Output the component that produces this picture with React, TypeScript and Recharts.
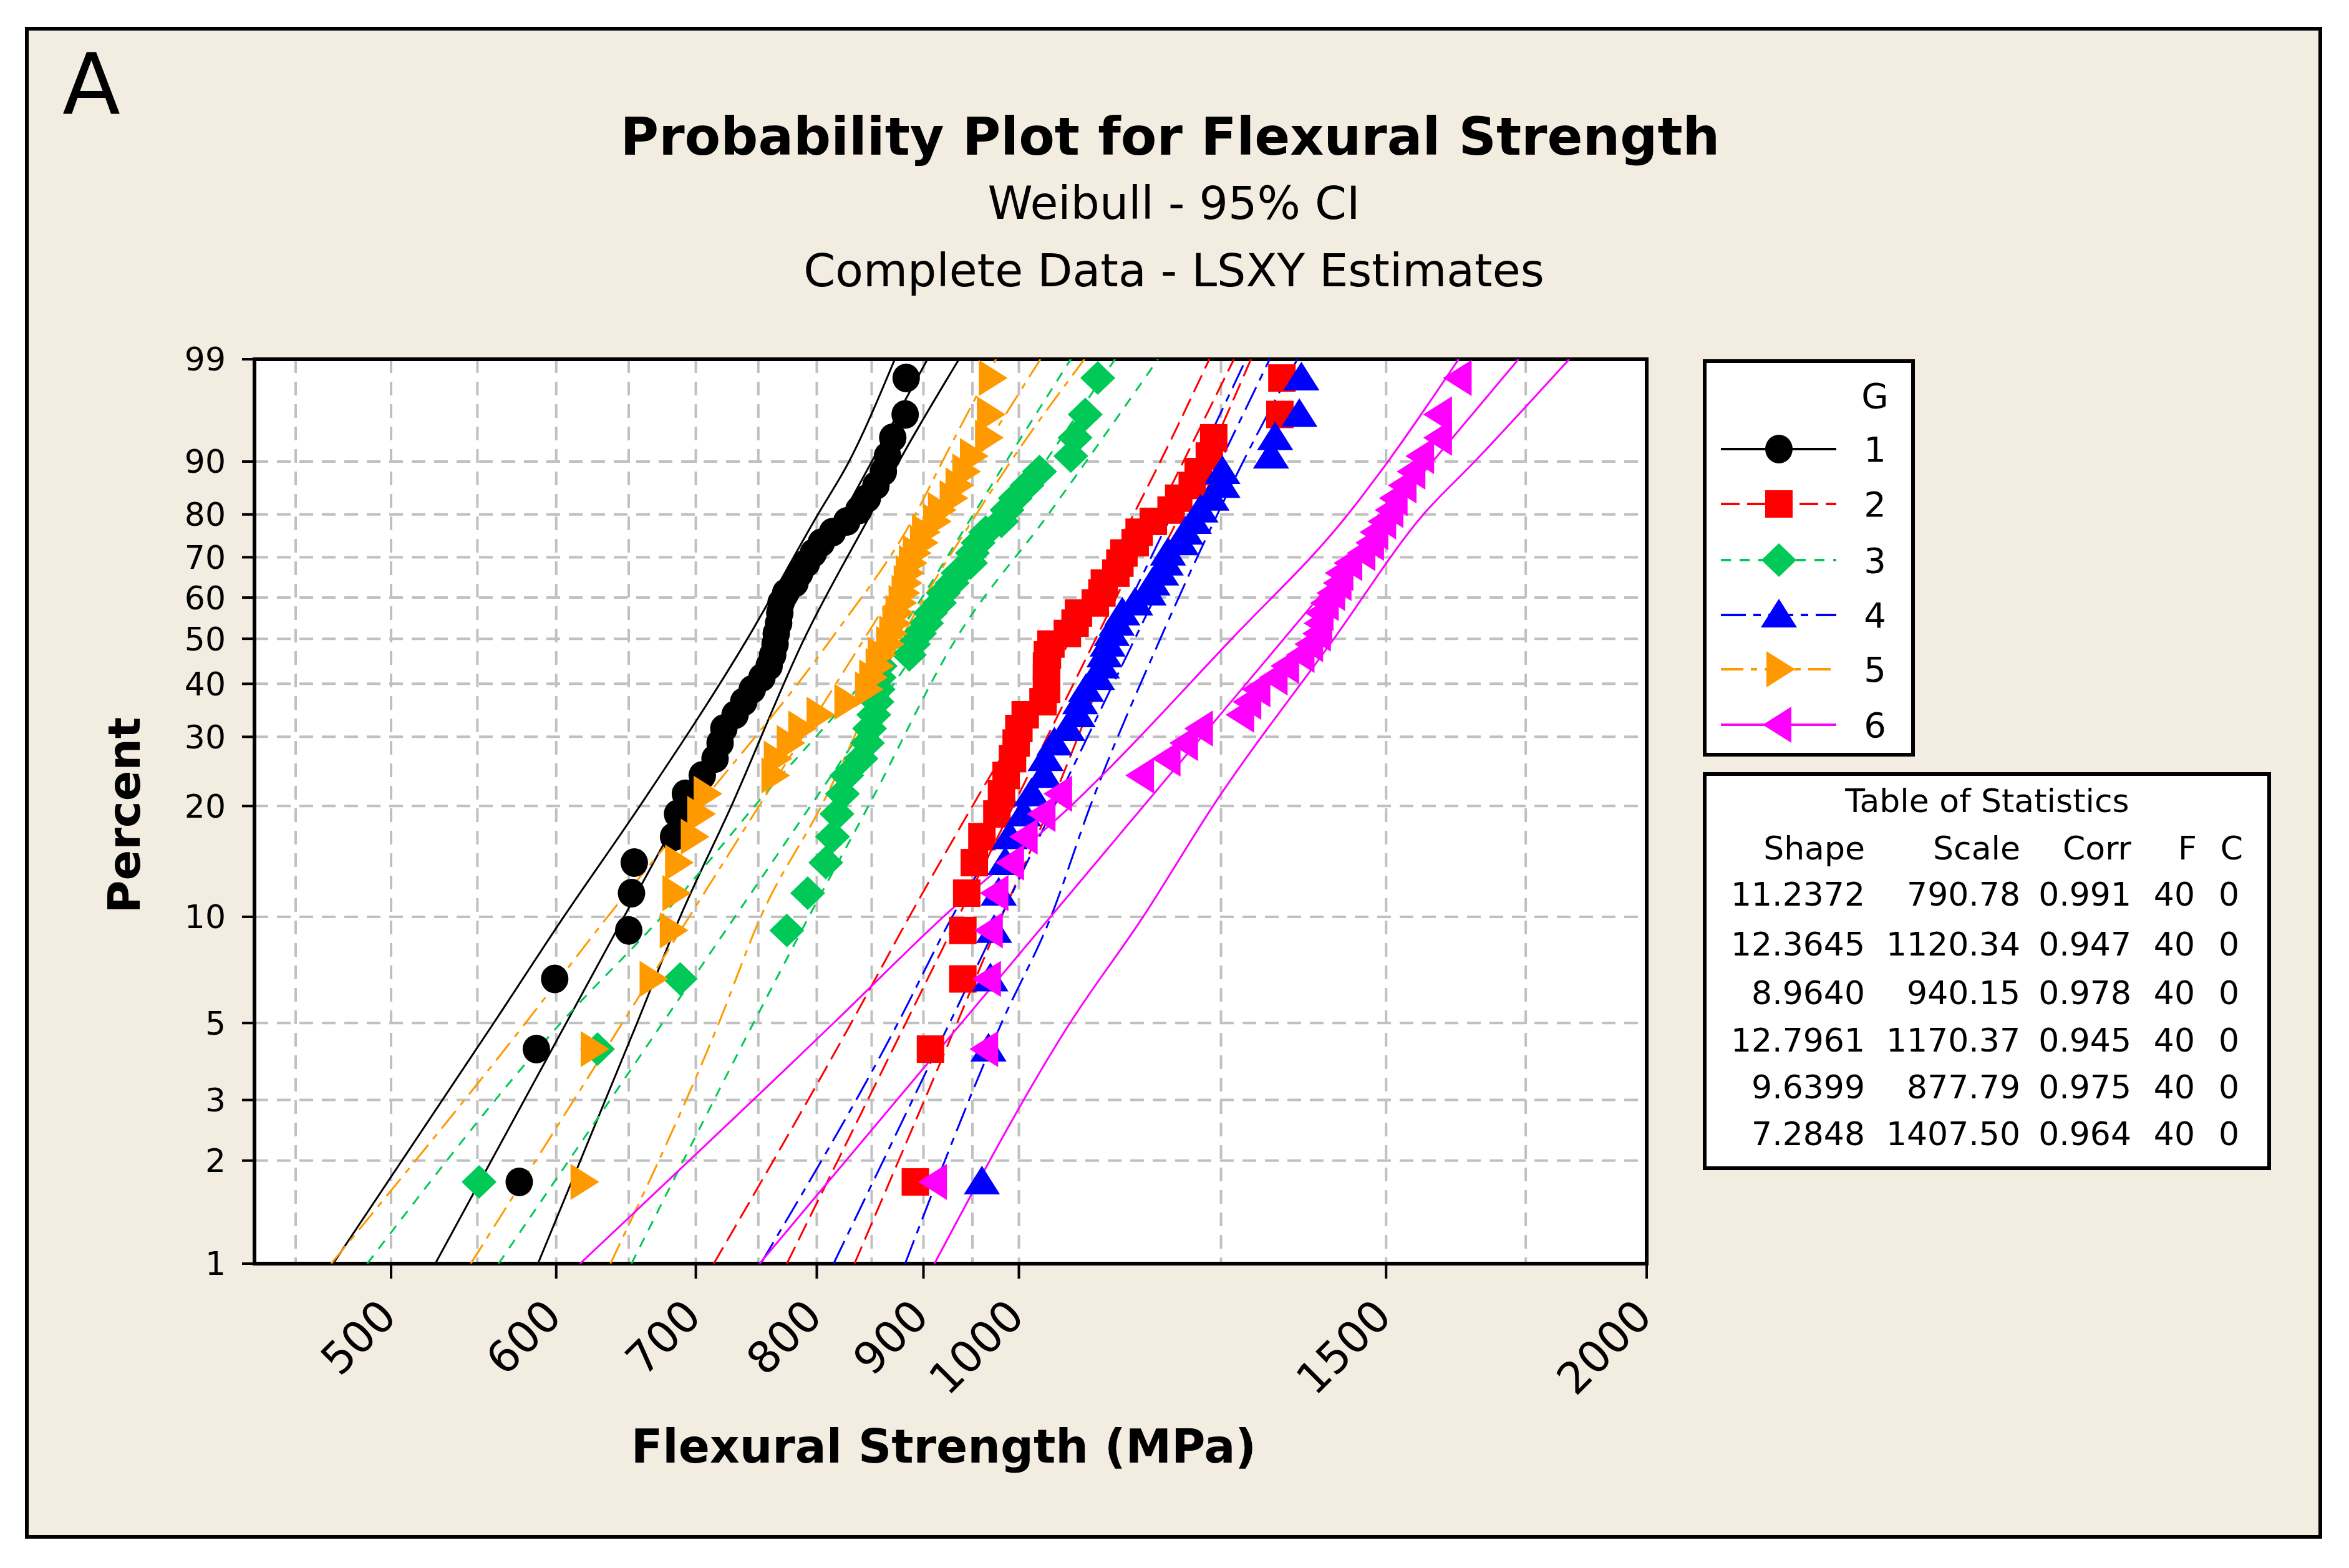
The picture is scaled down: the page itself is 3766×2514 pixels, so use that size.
import React from 'react';
import { ScatterChart, Scatter, XAxis, YAxis, CartesianGrid, ReferenceArea } from 'recharts';

const W = 3766;
const H = 2514;
const FONT = '"DejaVu Sans", Verdana, sans-serif';

const GROUPS = ['1', '2', '3', '4', '5', '6'];
const COLORS = ['#000000', '#FF0000', '#00C957', '#0000FF', '#FF9900', '#FF00FF'];
const DASHES = [undefined, '30 12', '16 14', '40 12 12 12', '36 12 10 12', undefined];
const MARKERS = ['circle', 'square', 'diamond', 'up', 'right', 'left'];

// flexural strength samples (MPa), sorted
const G1 = [576, 587, 599, 650, 652, 654, 683, 686, 692, 705, 715, 719, 722, 731, 738, 745, 753, 759, 762, 764,
  765, 767, 768, 769, 773, 781, 785, 791, 797, 804, 814, 827, 838, 846, 854, 861, 865, 870, 882, 883];
const G2 = [892, 907, 940, 940, 944, 952, 960, 976, 981, 986, 993, 997, 1000, 1007, 1027, 1031, 1031, 1031, 1032, 1036,
  1055, 1064, 1068, 1088, 1096, 1099, 1113, 1118, 1123, 1137, 1142, 1160, 1183, 1193, 1211, 1219, 1234, 1240, 1334, 1337];
const G3 = [551, 628, 688, 774, 792, 808, 814, 818, 823, 827, 840, 846, 848, 852, 855, 856, 857, 858, 886, 890,
  896, 903, 907, 916, 920, 929, 935, 948, 950, 956, 964, 981, 987, 996, 1009, 1023, 1059, 1064, 1076, 1091];
const G4 = [960, 967, 969, 973, 978, 985, 990, 1005, 1014, 1028, 1030, 1040, 1055, 1067, 1070, 1077, 1090, 1096, 1099, 1103,
  1108, 1114, 1121, 1137, 1154, 1159, 1170, 1176, 1179, 1196, 1202, 1213, 1222, 1237, 1252, 1252, 1321, 1327, 1363, 1366];
const G5 = [618, 625, 667, 682, 684, 686, 698, 703, 708, 763, 765, 776, 786, 802, 827, 846, 850, 856, 858, 866,
  869, 872, 875, 878, 881, 883, 885, 888, 892, 899, 901, 912, 917, 929, 935, 942, 950, 966, 968, 970];
const G6 = [911, 964, 967, 969, 975, 992, 1007, 1027, 1046, 1145, 1179, 1202, 1222, 1279, 1289, 1302, 1327, 1344, 1367, 1380,
  1392, 1394, 1396, 1404, 1414, 1424, 1427, 1441, 1462, 1476, 1483, 1496, 1508, 1515, 1530, 1545, 1560, 1591, 1591, 1626];
const SAMPLES = [G1, G2, G3, G4, G5, G6];

// fitted lines (ends at 1% and 99%)
const FIT_PCT = [1, 99];
const FIT = [
  [525, 904],
  [774, 1268],
  [563, 1112],
  [815, 1319],
  [546, 1024],
  [751, 1736],
];

// 95% confidence bounds
const CI_PCT = [1, 5, 10, 20, 50, 80, 90, 99];
const CI_LOW = [
  [469, 560, 605, 658, 741, 801, 829, 872],
  [714, 831, 886, 950, 1059, 1135, 1169, 1234],
  [487, 603, 674, 747, 872, 951, 986, 1059],
  [752, 875, 929, 1000, 1107, 1184, 1218, 1285],
  [468, 580, 635, 702, 813, 892, 919, 975],
  [616, 815, 920, 1059, 1265, 1438, 1503, 1625],
];
const CI_UP = [
  [588, 656, 688, 728, 789, 849, 876, 936],
  [834, 934, 981, 1035, 1116, 1195, 1229, 1292],
  [652, 746, 793, 847, 933, 1033, 1077, 1166],
  [882, 981, 1036, 1082, 1169, 1245, 1281, 1360],
  [637, 718, 752, 804, 878, 954, 991, 1075],
  [911, 1058, 1147, 1239, 1416, 1563, 1654, 1836],
];

const Y_TICKS = [1, 2, 3, 5, 10, 20, 30, 40, 50, 60, 70, 80, 90, 99];
const X_GRID = [450, 500, 550, 600, 650, 700, 750, 800, 850, 900, 950, 1000, 1250, 1500, 1750, 2000];
const X_LABELS = [500, 600, 700, 800, 900, 1000, 1500, 2000];

const SHAPE = [11.2372, 12.3645, 8.964, 12.7961, 9.6399, 7.2848];
const SCALE = [790.78, 1120.34, 940.15, 1170.37, 877.79, 1407.5];
const CORR = [0.991, 0.947, 0.978, 0.945, 0.975, 0.964];
const FAIL = [40, 40, 40, 40, 40, 40];
const CENS = [0, 0, 0, 0, 0, 0];

// weibull probability scale
const weib = (p: number) => Math.log(-Math.log(1 - p / 100));
const unweib = (w: number) => 100 * (1 - Math.exp(-Math.exp(w)));

const pointsOf = (vals: number[]) =>
  vals.map((v, i) => ({ x: v, y: weib((100 * (i + 0.7)) / (vals.length + 0.4)) }));
const curveOf = (vals: number[], pcts: number[]) => vals.map((v, i) => ({ x: v, y: weib(pcts[i]) }));

function Marker({ kind, cx, cy, color }: { kind: string; cx: number; cy: number; color: string }) {
  switch (kind) {
    case 'circle':
      return <ellipse cx={cx} cy={cy} rx={22} ry={23} fill={color} />;
    case 'square':
      return <rect x={cx - 22} y={cy - 22} width={44} height={44} fill={color} />;
    case 'diamond':
      return <polygon points={`${cx},${cy - 27} ${cx + 28},${cy} ${cx},${cy + 27} ${cx - 28},${cy}`} fill={color} />;
    case 'up':
      return <polygon points={`${cx},${cy - 26} ${cx + 29},${cy + 20} ${cx - 29},${cy + 20}`} fill={color} />;
    case 'right':
      return <polygon points={`${cx - 20},${cy - 29} ${cx + 26},${cy} ${cx - 20},${cy + 29}`} fill={color} />;
    default:
      return <polygon points={`${cx + 20},${cy - 29} ${cx - 26},${cy} ${cx + 20},${cy + 29}`} fill={color} />;
  }
}

function XTick(props: any) {
  const { x, y, payload } = props;
  const v = payload.value;
  if (!X_LABELS.includes(v)) return <g />;
  const tx = x + 12;
  const ty = y + 64;
  return (
    <g>
      <line x1={x} y1={y - 24} x2={x} y2={y} stroke="#000" strokeWidth={4} />
      <text x={tx} y={ty} transform={`rotate(-45 ${tx} ${ty})`} textAnchor="end" fontSize={70} fontFamily={FONT} fill="#000">
        {v}
      </text>
    </g>
  );
}

const noDot = () => <g />;

const LEG_Y = [720, 808, 898, 986, 1073, 1162];
const ROW_Y = [1452, 1532, 1610, 1686, 1761, 1836];

export default function App() {
  const lineSeries: React.ReactNode[] = [];
  SAMPLES.forEach((_, g) => {
    const line = { stroke: COLORS[g], strokeWidth: 3, strokeDasharray: DASHES[g] };
    [curveOf(CI_LOW[g], CI_PCT), curveOf(CI_UP[g], CI_PCT)].forEach((d, k) => {
      lineSeries.push(
        <Scatter key={`ci${g}-${k}`} data={d} line={line} lineJointType="monotoneX" shape={noDot}
          fill={COLORS[g]} isAnimationActive={false} legendType="none" />
      );
    });
    lineSeries.push(
      <Scatter key={`fit${g}`} data={curveOf(FIT[g], FIT_PCT)} line={line} shape={noDot}
        fill={COLORS[g]} isAnimationActive={false} legendType="none" />
    );
  });

  return (
    <div style={{ position: 'absolute', left: 0, top: 0, width: W, height: H, background: '#fff' }}>
      <div style={{ position: 'absolute', left: 40, top: 43, width: 3683, height: 2424, boxSizing: 'border-box',
        border: '6px solid #000', background: '#F3ECE1' }} />
      <div style={{ position: 'absolute', left: 0, top: 0 }}>
        <ScatterChart width={W} height={H} margin={{ top: 576, right: 1126, bottom: 388, left: 308 }}>
          <CartesianGrid stroke="#C0C0C0" strokeWidth={4} strokeDasharray="22 14" fill="#FFFFFF" fillOpacity={1} />
          <XAxis dataKey="x" type="number" scale="log" domain={[430, 2000]} ticks={X_GRID} interval={0}
            allowDataOverflow tickLine={false} axisLine={false} tickSize={24} tickMargin={0} height={100} tick={<XTick />} />
          <YAxis dataKey="y" type="number" domain={[weib(1), weib(99)]} ticks={Y_TICKS.map(weib)} interval={0}
            allowDataOverflow width={100} axisLine={false} tickSize={20} tickMargin={26}
            tickLine={{ stroke: '#000', strokeWidth: 4 }}
            tickFormatter={(v: number) => String(Math.round(unweib(v)))}
            tick={{ fontSize: 52, fill: '#000', fontFamily: FONT }} />
          {lineSeries}
          {SAMPLES.map((vals, g) => (
            <Scatter key={`pts${g}`} data={pointsOf(vals)} fill={COLORS[g]} isAnimationActive={false}
              shape={(p: any) => <Marker kind={MARKERS[g]} cx={p.cx} cy={p.cy} color={COLORS[g]} />} />
          ))}
          <ReferenceArea x1={430} x2={2000} y1={weib(1)} y2={weib(99)} fill="none" stroke="#000" strokeWidth={6}
            ifOverflow="visible" />
        </ScatterChart>
      </div>
      <svg width={W} height={H} style={{ position: 'absolute', left: 0, top: 0, pointerEvents: 'none' }} fontFamily={FONT}>
        <text x={100} y={182} fontSize={136} fill="#000">A</text>
        <text x={1876} y={248} fontSize={84} fontWeight="bold" textAnchor="middle">Probability Plot for Flexural Strength</text>
        <text x={1882} y={351} fontSize={73} textAnchor="middle">Weibull - 95% CI</text>
        <text x={1882} y={459} fontSize={73} textAnchor="middle">Complete Data - LSXY Estimates</text>
        <text x={1513} y={2345} fontSize={74} fontWeight="bold" textAnchor="middle">Flexural Strength (MPa)</text>
        <text x={224} y={1307} fontSize={72} fontWeight="bold" textAnchor="middle" transform="rotate(-90 224 1307)">Percent</text>

        <rect x={2733} y={579} width={334} height={631} fill="#fff" stroke="#000" strokeWidth={6} />
        <text x={3006} y={654} fontSize={56} textAnchor="middle">G</text>
        {GROUPS.map((g, i) => (
          <g key={g}>
            <line x1={2759} x2={2944} y1={LEG_Y[i]} y2={LEG_Y[i]} stroke={COLORS[i]} strokeWidth={4} strokeDasharray={DASHES[i]} />
            <Marker kind={MARKERS[i]} cx={2852} cy={LEG_Y[i]} color={COLORS[i]} />
            <text x={3006} y={LEG_Y[i] + 20} fontSize={56} textAnchor="middle">{g}</text>
          </g>
        ))}

        <rect x={2733} y={1241} width={905} height={632} fill="#fff" stroke="#000" strokeWidth={6} />
        <text x={3186} y={1302} fontSize={52} textAnchor="middle">Table of Statistics</text>
        <g fontSize={52} textAnchor="end">
          <text x={2990} y={1378}>Shape</text>
          <text x={3239} y={1378}>Scale</text>
          <text x={3417} y={1378}>Corr</text>
          <text x={3522} y={1378}>F</text>
          <text x={3596} y={1378}>C</text>
          {GROUPS.map((g, i) => (
            <g key={g}>
              <text x={2990} y={ROW_Y[i]}>{SHAPE[i].toFixed(4)}</text>
              <text x={3239} y={ROW_Y[i]}>{SCALE[i].toFixed(2)}</text>
              <text x={3417} y={ROW_Y[i]}>{CORR[i].toFixed(3)}</text>
              <text x={3519} y={ROW_Y[i]}>{FAIL[i]}</text>
              <text x={3590} y={ROW_Y[i]}>{CENS[i]}</text>
            </g>
          ))}
        </g>
      </svg>
    </div>
  );
}
